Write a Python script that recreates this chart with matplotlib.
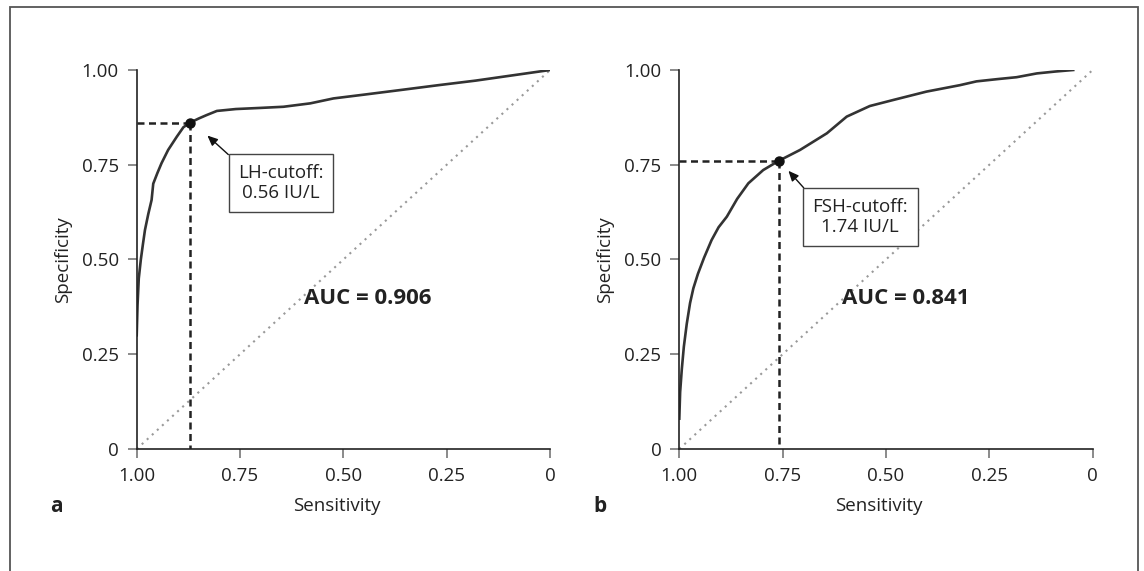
import numpy as np
import matplotlib
matplotlib.use('Agg')
from matplotlib import pyplot as plt
from matplotlib.patches import Rectangle

plt.rcParams['font.family'] = ['Open Sans', 'DejaVu Sans']

# panel a: LH
sens_a = [1.000, 0.998, 0.995, 0.990, 0.985, 0.980, 0.972, 0.964, 0.960, 0.950, 0.940,
          0.924, 0.903, 0.887, 0.871, 0.850, 0.831, 0.806, 0.760, 0.700, 0.645, 0.580,
          0.524, 0.450, 0.363, 0.270, 0.180, 0.090, 0.000]
spec_a = [0.300, 0.380, 0.450, 0.500, 0.540, 0.578, 0.620, 0.657, 0.700, 0.728, 0.754,
          0.789, 0.824, 0.849, 0.861, 0.872, 0.881, 0.892, 0.897, 0.900, 0.903, 0.912,
          0.925, 0.935, 0.947, 0.960, 0.972, 0.986, 1.000]
cut_a = (0.871, 0.861)
label_a = 'LH-cutoff:\n0.56 IU/L'
auc_a = 'AUC = 0.906'

# panel b: FSH
sens_b = [1.000, 0.998, 0.994, 0.989, 0.982, 0.974, 0.966, 0.955, 0.940, 0.922, 0.905,
          0.885, 0.860, 0.833, 0.797, 0.760, 0.708, 0.643, 0.595, 0.539, 0.482, 0.402,
          0.321, 0.281, 0.230, 0.184, 0.135, 0.090, 0.047]
spec_b = [0.080, 0.150, 0.210, 0.270, 0.330, 0.385, 0.424, 0.462, 0.505, 0.551, 0.585,
          0.613, 0.660, 0.701, 0.736, 0.760, 0.789, 0.833, 0.877, 0.905, 0.921, 0.943,
          0.960, 0.970, 0.976, 0.981, 0.991, 0.996, 1.000]
cut_b = (0.760, 0.760)
label_b = 'FSH-cutoff:\n1.74 IU/L'
auc_b = 'AUC = 0.841'

ticks = [1.0, 0.75, 0.5, 0.25, 0]
tick_labels = ['1.00', '0.75', '0.50', '0.25', '0']

fig = plt.figure(figsize=(11.44, 5.71), dpi=100)

# outer frame (bottom edge cut off in the original)
fig.patches.append(Rectangle((0.0087, -0.05), 0.9861, 1.0377, transform=fig.transFigure,
                             fill=False, edgecolor='#555555', linewidth=1.3, clip_on=False))


def draw_panel(left, sens, spec, cut, label, label_pos, tip, auc, auc_pos, letter, letter_x):
    ax = fig.add_axes([left, 0.2137, 0.3613, 0.6637])
    ax.set_xlim(1, 0)
    ax.set_ylim(0, 1)
    ax.plot([1, 0], [0, 1], color='#999999', lw=1.5, linestyle=(0, (1, 2.3)))
    ax.plot([1, cut[0]], [cut[1], cut[1]], color='#222222', lw=1.8, dashes=(2.8, 1.8))
    ax.plot([cut[0], cut[0]], [cut[1], 0], color='#222222', lw=1.8, dashes=(2.8, 1.8))
    ax.plot(sens, spec, color='#333333', lw=1.9, solid_joinstyle='round')
    ax.plot(cut[0], cut[1], 'o', color='#111111', markersize=6.5)
    ax.annotate(label, xy=tip, xytext=label_pos, fontsize=13.5, ha='center', va='center',
                multialignment='center', color='#222222',
                bbox=dict(boxstyle='square,pad=0.5', fc='white', ec='#444444', lw=1),
                arrowprops=dict(arrowstyle='-|>,head_length=0.45,head_width=0.2',
                                color='#111111', lw=1, relpos=(0, 1), shrinkA=0, shrinkB=0))
    ax.text(auc_pos[0], auc_pos[1], auc, fontsize=16, fontweight='bold', color='#222222',
            ha='center', va='center')
    for s in ['top', 'right']:
        ax.spines[s].set_visible(False)
    for s in ['left', 'bottom']:
        ax.spines[s].set_linewidth(1.2)
        ax.spines[s].set_color('#222222')
    ax.set_xticks(ticks)
    ax.set_xticklabels(tick_labels)
    ax.set_yticks(ticks)
    ax.set_yticklabels(tick_labels)
    ax.tick_params(axis='both', direction='out', length=6.5, width=1.2, color='#777777',
                   labelsize=13.5, labelcolor='#222222')
    ax.tick_params(axis='x', pad=6.5)
    ax.tick_params(axis='y', pad=6.5)
    ax.set_xlabel('Sensitivity', fontsize=13.5, color='#222222')
    ax.set_ylabel('Specificity', fontsize=13.5, color='#222222')
    ax.xaxis.set_label_coords(0.483, -0.127)
    ax.yaxis.set_label_coords(-0.157, 0.5)
    fig.text(letter_x, 0.1138, letter, fontsize=15, fontweight='bold', color='#222222',
             ha='center', va='center')
    return ax


draw_panel(0.1195, sens_a, spec_a, cut_a, label_a, (0.651, 0.702), (0.829, 0.827),
           auc_a, (0.44, 0.398), 'a', 0.049)
draw_panel(0.5938, sens_b, spec_b, cut_b, label_b, (0.562, 0.612), (0.736, 0.734),
           auc_b, (0.452, 0.398), 'b', 0.5245)

plt.savefig('out.png', dpi=100)
